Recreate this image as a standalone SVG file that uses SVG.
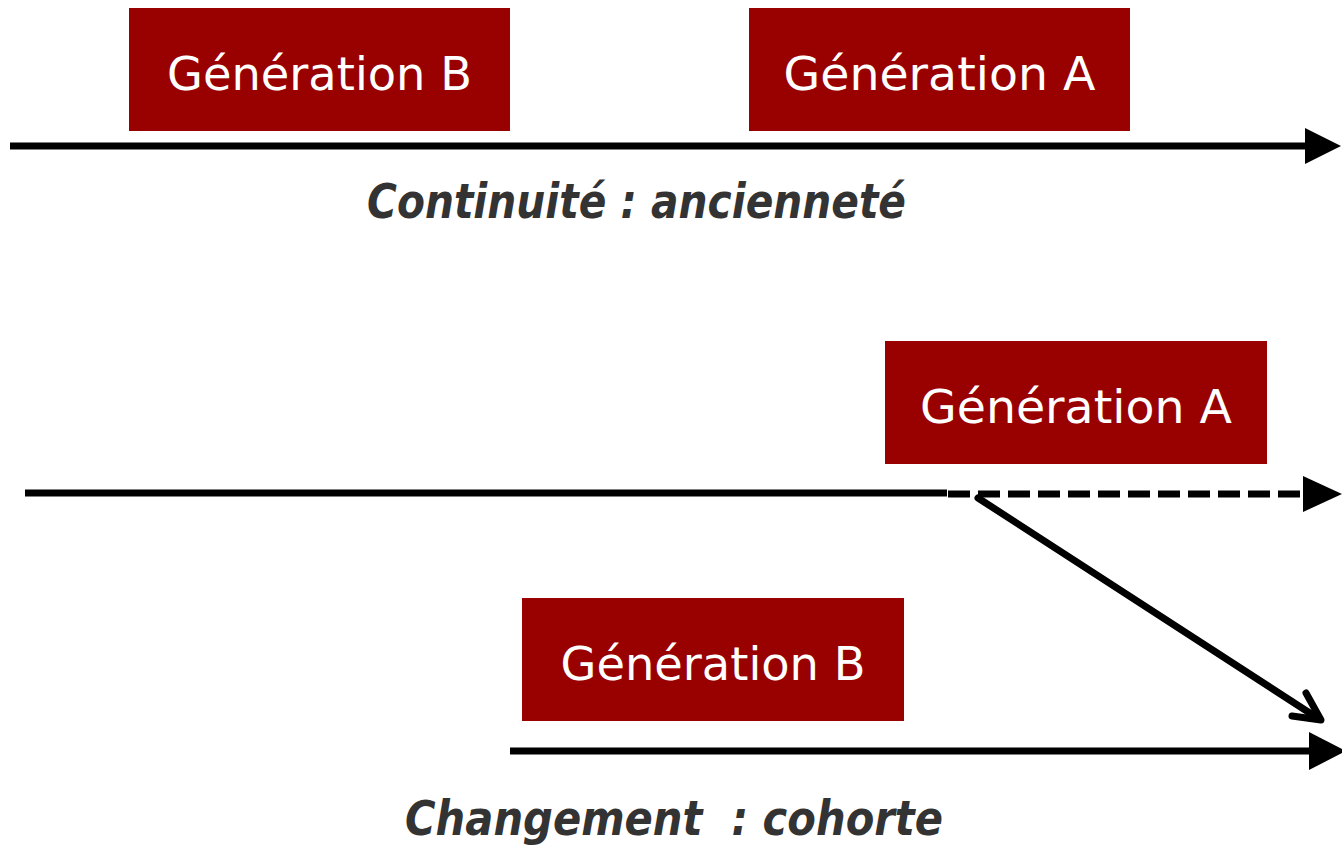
<svg xmlns="http://www.w3.org/2000/svg" width="1342" height="846" viewBox="0 0 1342 846">
<style>
.box{fill:#990000;}
.lbl{font-family:"DejaVu Sans","Liberation Sans",sans-serif;font-size:46px;fill:#ffffff;text-anchor:middle;}
.cap{font-family:"DejaVu Sans","Liberation Sans",sans-serif;font-size:48px;font-weight:bold;font-style:italic;fill:#333333;}
.ln{stroke:#000;stroke-width:7;fill:none;}
.head{fill:#000;}
</style>
<rect width="1342" height="846" fill="#ffffff"/>
<g id="connectors">
  <line class="ln" x1="10" y1="146" x2="1308" y2="146"/>
  <polygon class="head" points="1305,128 1341,146 1305,164"/>
  <line class="ln" x1="25" y1="493" x2="947" y2="493"/>
  <line class="ln" x1="948" y1="494" x2="1306" y2="494" stroke-dasharray="22 8"/>
  <polygon class="head" points="1303,476 1342,494 1303,512"/>
  <line class="ln" x1="978" y1="498" x2="1319" y2="719" stroke-linecap="round"/>
  <polyline class="ln" points="1292,716 1321,720 1306,693" stroke-linecap="round" stroke-linejoin="round"/>
  <line class="ln" x1="510" y1="751" x2="1312" y2="751"/>
  <polygon class="head" points="1309,732 1346,751 1309,770"/>
</g>
<g id="genB-top">
  <rect class="box" x="129" y="8" width="381" height="123"/>
  <text class="lbl" x="319.5" y="90" textLength="305" lengthAdjust="spacingAndGlyphs">Génération B</text>
</g>
<g id="genA-top">
  <rect class="box" x="749" y="8" width="381" height="123"/>
  <text class="lbl" x="939.5" y="90" textLength="312" lengthAdjust="spacingAndGlyphs">Génération A</text>
</g>
<g id="caption-top">
  <text class="cap" x="367" y="218" textLength="539" lengthAdjust="spacingAndGlyphs">Continuité : ancienneté</text>
</g>
<g id="genA-bottom">
  <rect class="box" x="885" y="341" width="382" height="123"/>
  <text class="lbl" x="1076" y="423" textLength="312" lengthAdjust="spacingAndGlyphs">Génération A</text>
</g>
<g id="genB-bottom">
  <rect class="box" x="522" y="598" width="382" height="123"/>
  <text class="lbl" x="713" y="680" textLength="305" lengthAdjust="spacingAndGlyphs">Génération B</text>
</g>
<g id="caption-bottom">
  <text class="cap" x="405" y="835" textLength="538" lengthAdjust="spacingAndGlyphs" xml:space="preserve">Changement  : cohorte</text>
</g>
</svg>
